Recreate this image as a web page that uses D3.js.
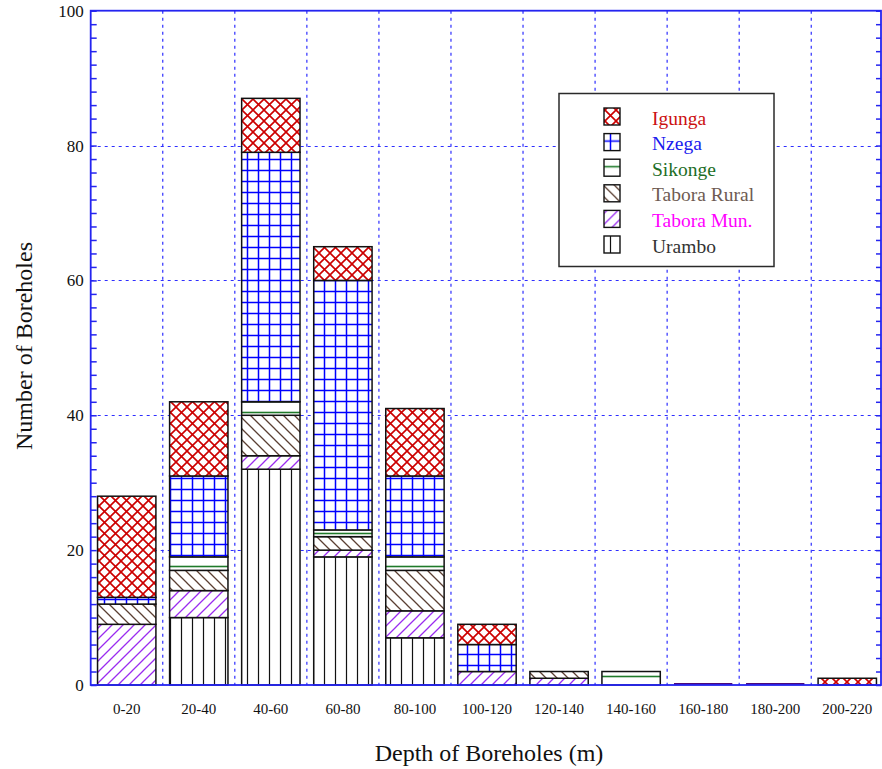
<!DOCTYPE html>
<html>
<head>
<meta charset="utf-8">
<script src="https://cdn.jsdelivr.net/npm/d3@7"></script>
<style>
    body { margin: 0; background: white; }
    svg { display: block; font-family: "Liberation Serif", "Times New Roman", serif; }
</style>
</head>
<body>
<div id="graph"></div>
<script>
// depth bins along the bottom
const categories = ["0-20", "20-40", "40-60", "60-80", "80-100", "100-120", "120-140", "140-160", "160-180", "180-200", "200-220"];

// boreholes per district (bottom of stack first)
const urambo = [0, 10, 32, 19, 7, 0, 0, 0, 0, 0, 0];
const taboraMun = [9, 4, 2, 1, 4, 2, 1, 0, 0, 0, 0];
const taboraRural = [3, 3, 6, 2, 6, 0, 1, 0, 0, 0, 0];
const sikonge = [0, 2, 2, 1, 2, 0, 0, 2, 0, 0, 0];
const nzega = [1, 12, 37, 37, 12, 4, 0, 0, 0, 0, 0];
const igunga = [15, 11, 8, 5, 10, 3, 0, 0, 0, 0, 1];

const seriesKeys = ["Urambo", "Tabora Mun.", "Tabora Rural", "Sikonge", "Nzega", "Igunga"];
const seriesValues = [urambo, taboraMun, taboraRural, sikonge, nzega, igunga];

const yTicks = [0, 20, 40, 60, 80, 100];

function drawChart(graphId) {
    const width = 882;
    const height = 769;
    const margin = { top: 10.7, right: 1, bottom: 84, left: 90.7 };
    const plotRight = width - margin.right;
    const plotBottom = height - margin.bottom;

    let svg = d3.select(`#${graphId}`)
        .append(`svg`)
        .attr(`width`, width)
        .attr(`height`, height);

    // one fill pattern per district, hatch drawn on white so gridlines don't show through
    const patterns = {
        "Igunga": { colour: "#cc0000", path: "M-1,-1L12,12M12,-1L-1,12", sw: 1.6, text: "#cc1111" },
        "Nzega": { colour: "#0000ff", path: "M5.5,0V11M0,5.5H11", sw: 1.5, text: "#1a1aee" },
        "Sikonge": { colour: "#1f7a2a", path: "M0,5.5H11", sw: 1.6, text: "#1d6e26" },
        "Tabora Rural": { colour: "#5b3f33", path: "M-1,-1L12,12M-1,10L1,12M10,-1L12,1", sw: 1.3, text: "#6e5b52" },
        "Tabora Mun.": { colour: "#9a2cf0", path: "M-1,12L12,-1M-1,1L1,-1M10,12L12,10", sw: 1.3, text: "#ff00ff" },
        "Urambo": { colour: "#111111", path: "M5.5,0V11", sw: 1.2, text: "#333333" }
    };

    let defs = svg.append(`defs`);
    seriesKeys.forEach(function (key, i) {
        let p = defs.append(`pattern`)
            .attr(`id`, `pat-${i}`)
            .attr(`patternUnits`, `userSpaceOnUse`)
            .attr(`width`, 11)
            .attr(`height`, 11);
        p.append(`rect`).attr(`width`, 11).attr(`height`, 11).attr(`fill`, `white`);
        p.append(`path`)
            .attr(`d`, patterns[key].path)
            .attr(`stroke`, patterns[key].colour)
            .attr(`stroke-width`, patterns[key].sw)
            .attr(`fill`, `none`);
    });

    // table for d3.stack
    const table = categories.map(function (c, j) {
        let row = { category: c };
        seriesKeys.forEach((k, i) => row[k] = seriesValues[i][j]);
        return row;
    });
    const stacked = d3.stack().keys(seriesKeys)(table);

    const x = d3.scaleBand()
        .domain(categories)
        .range([margin.left, 883.3])
        .paddingInner(0.19)
        .paddingOuter(0.095);

    const y = d3.scaleLinear()
        .domain([0, 100])
        .range([plotBottom, margin.top]);

    const gridColour = "#2e2eff";
    const axisColour = "#2424f0";
    // snap horizontal lines to the pixel grid so they stay blue and sharp
    const crisp = v => Math.round(v) + 0.5;

    // gridlines first, bars sit on top of them
    svg.append(`g`)
        .selectAll(`line`)
        .data(yTicks.filter(t => t > 0 && t < 100))
        .enter()
        .append(`line`)
        .attr(`x1`, margin.left)
        .attr(`x2`, plotRight)
        .attr(`y1`, d => crisp(y(d)))
        .attr(`y2`, d => crisp(y(d)))
        .attr(`stroke`, gridColour)
        .attr(`stroke-width`, 1)
        .attr(`stroke-dasharray`, `3,4`);

    svg.append(`g`)
        .selectAll(`line`)
        .data(categories.slice(1))
        .enter()
        .append(`line`)
        .attr(`x1`, d => x(d) - x.step() * 0.095)
        .attr(`x2`, d => x(d) - x.step() * 0.095)
        .attr(`y1`, margin.top)
        .attr(`y2`, plotBottom)
        .attr(`stroke`, gridColour)
        .attr(`stroke-width`, 1.2)
        .attr(`stroke-dasharray`, `3,4`);

    // the stacks
    let layers = svg.append(`g`)
        .selectAll(`g`)
        .data(stacked)
        .enter()
        .append(`g`)
        .attr(`fill`, (d, i) => `url(#pat-${i})`);

    layers.selectAll(`rect`)
        .data(d => d.filter(s => s[1] > s[0]))
        .enter()
        .append(`rect`)
        .attr(`x`, d => x(d.data.category))
        .attr(`y`, d => y(d[1]))
        .attr(`width`, x.bandwidth())
        .attr(`height`, d => y(d[0]) - y(d[1]))
        .attr(`stroke`, `#111`)
        .attr(`stroke-width`, 1.5);

    // empty bins still get a flat line on the floor
    const totals = table.map(r => d3.sum(seriesKeys, k => r[k]));
    svg.append(`g`)
        .selectAll(`line`)
        .data(categories.filter((c, j) => totals[j] === 0))
        .enter()
        .append(`line`)
        .attr(`x1`, d => x(d))
        .attr(`x2`, d => x(d) + x.bandwidth())
        .attr(`y1`, plotBottom - 1)
        .attr(`y2`, plotBottom - 1)
        .attr(`stroke`, `#4b0a7a`)
        .attr(`stroke-width`, 2);

    // left axis: minor ticks every 2, labels every 20
    let leftAxis = svg.append(`g`)
        .attr(`transform`, `translate(${margin.left},0)`)
        .call(d3.axisLeft(y)
            .tickValues(d3.range(0, 101, 2))
            .tickSize(-6)
            .tickPadding(7)
            .tickFormat(d => yTicks.includes(d) ? d : ``));
    leftAxis.selectAll(`text`)
        .style(`font-size`, `17px`)
        .style(`font-family`, `"Liberation Serif", serif`)
        .attr(`fill`, `#111`);

    let rightAxis = svg.append(`g`)
        .attr(`transform`, `translate(${plotRight},0)`)
        .call(d3.axisRight(y)
            .tickValues(d3.range(0, 101, 2))
            .tickSize(-5)
            .tickFormat(``));

    let bottomAxis = svg.append(`g`)
        .attr(`transform`, `translate(0,${plotBottom})`)
        .call(d3.axisBottom(x).tickSize(0).tickPadding(18));
    bottomAxis.selectAll(`text`)
        .style(`font-size`, `15px`)
        .style(`font-family`, `"Liberation Serif", serif`)
        .attr(`fill`, `#111`);

    [leftAxis, rightAxis, bottomAxis].forEach(function (a) {
        a.selectAll(`.tick line`).attr(`stroke`, axisColour).attr(`stroke-width`, 1.5);
        a.select(`.domain`).remove();
    });

    // frame round the plot
    svg.append(`rect`)
        .attr(`x`, margin.left)
        .attr(`y`, margin.top)
        .attr(`width`, plotRight - margin.left)
        .attr(`height`, plotBottom - margin.top)
        .attr(`fill`, `none`)
        .attr(`stroke`, axisColour)
        .attr(`stroke-width`, 1.8);

    // axis titles
    svg.append(`text`)
        .attr(`x`, 489)
        .attr(`y`, 761)
        .attr(`text-anchor`, `middle`)
        .style(`font-size`, `24px`)
        .attr(`fill`, `#111`)
        .text(`Depth of Boreholes (m)`);

    svg.append(`text`)
        .attr(`transform`, `translate(32,346) rotate(-90)`)
        .attr(`text-anchor`, `middle`)
        .style(`font-size`, `24px`)
        .attr(`fill`, `#111`)
        .text(`Number of Boreholes`);

    // legend, top of the stack first
    const legendKeys = seriesKeys.slice().reverse();
    let legend = svg.append(`g`);
    legend.append(`rect`)
        .attr(`x`, 559)
        .attr(`y`, 93.5)
        .attr(`width`, 215)
        .attr(`height`, 173)
        .attr(`fill`, `white`)
        .attr(`stroke`, `#2a2a2a`)
        .attr(`stroke-width`, 1.5);

    let items = legend.selectAll(`g.item`)
        .data(legendKeys)
        .enter()
        .append(`g`)
        .attr(`class`, `item`)
        .attr(`transform`, (d, i) => `translate(0,${25.6 * i})`);

    items.append(`rect`)
        .attr(`x`, 604)
        .attr(`y`, 108)
        .attr(`width`, 16)
        .attr(`height`, 17)
        .attr(`fill`, d => `url(#pat-${seriesKeys.indexOf(d)})`)
        .attr(`stroke`, `#111`)
        .attr(`stroke-width`, 1.4);

    items.append(`text`)
        .attr(`x`, 652)
        .attr(`y`, 124.5)
        .style(`font-size`, `19.5px`)
        .attr(`fill`, d => patterns[d].text)
        .text(d => d);
}

drawChart("graph");
</script>
</body>
</html>
